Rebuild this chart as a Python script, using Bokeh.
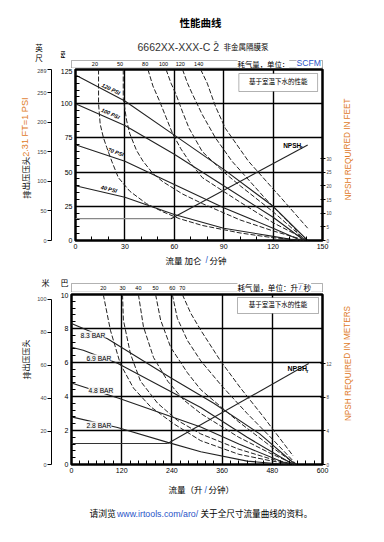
from bokeh.plotting import figure
from bokeh.models import Range1d, LinearAxis, FixedTicker, Label, BoxAnnotation
from bokeh.layouts import column, row
from bokeh.embed import file_html
from bokeh.resources import INLINE
from bokeh.core.properties import value

# ---------------- top chart (US units) ----------------
gpm_ticks = [0, 30, 60, 90, 120, 150]
gpm_minor = [0, 10, 20, 30, 40, 50, 60, 70, 80, 90, 100, 110, 120, 130, 140, 150]
psi_ticks = [0, 25, 50, 75, 100, 125]
psi_minor = [0, 5, 10, 15, 20, 25, 30, 35, 40, 45, 50, 55, 60, 65, 70, 75, 80, 85, 90, 95, 100, 105, 110, 115, 120, 125]
feet_ticks = [0, 50, 100, 150, 200, 250, 289]
npsh_ft_ticks = [0, 5, 10, 15, 20, 25, 30]

psi120_gpm = [0, 30, 60, 90, 120, 141]
psi120_val = [121, 102, 77, 52, 25, 0]
psi100_gpm = [0, 30, 60, 90, 120, 139]
psi100_val = [100, 84, 63, 40, 17, 0]
psi70_gpm = [0, 30, 60, 90, 120, 137]
psi70_val = [70, 58, 41, 24, 9, 0]
psi40_gpm = [0, 30, 60, 90, 120, 135]
psi40_val = [40, 31.6, 19, 9, 3, 0]
psi_names = ["120 PSI", "100 PSI", "70 PSI", "40 PSI"]

scfm20_gpm = [14, 14, 15, 17, 19, 22, 26, 33, 43, 53, 63, 77, 100, 120, 140]
scfm20_psi = [125, 100, 85, 75, 68, 58, 46, 36, 27, 21, 16, 11, 5.5, 2, 0]
scfm50_gpm = [29, 29, 31, 33, 37, 41, 47, 53, 65, 77, 100, 120, 140]
scfm50_psi = [125, 104, 88, 78, 66, 58, 49, 43, 34, 27, 15, 7, 0]
scfm80_gpm = [44, 47, 51, 55, 59, 64, 69, 77, 100, 120, 141]
scfm80_psi = [125, 113, 102, 90, 78, 67, 58, 46, 28, 13, 0]
scfm100_gpm = [55, 58, 61, 65, 69, 77, 90, 100, 120, 140]
scfm100_psi = [125, 115, 107, 94, 82, 65, 50, 40, 21, 0]
scfm120_gpm = [65, 68, 71, 77, 85, 95, 115, 133, 138]
scfm120_psi = [125, 115, 107, 92, 75, 58, 31, 9, 0]
scfm140_gpm = [76, 80, 85, 91, 105, 125, 141]
scfm140_psi = [125, 115, 98, 82, 58, 31, 9]
scfm_names = ["20", "50", "80", "100", "120", "140"]

npsh_flat_gpm = [0, 58]
npsh_flat_ft = [8, 8]
npsh_rise_gpm = [58, 141]
npsh_rise_ft = [8, 35]

# ---------------- bottom chart (metric) ----------------
lpm_ticks = [0, 120, 240, 360, 480, 600]
lpm_minor = [0, 20, 40, 60, 80, 100, 120, 140, 160, 180, 200, 220, 240, 260, 280, 300, 320, 340, 360,
             380, 400, 420, 440, 460, 480, 500, 520, 540, 560, 580, 600]
bar_ticks = [0, 2, 4, 6, 8, 10]
bar_minor = [0, 0.4, 0.8, 1.2, 1.6, 2, 2.4, 2.8, 3.2, 3.6, 4, 4.4, 4.8, 5.2, 5.6, 6, 6.4, 6.8, 7.2, 7.6, 8,
             8.4, 8.8, 9.2, 9.6, 10]
meter_ticks = [0, 20, 40, 60, 80, 100]
npsh_m_ticks = [0, 4, 8, 12]

bar83_lpm = [0, 86, 237, 340, 450, 535]
bar83_val = [8.3, 7.4, 5.1, 3.6, 1.8, 0]
bar69_lpm = [0, 28, 110, 309, 420, 530]
bar69_val = [6.9, 6.72, 5.95, 3.35, 1.6, 0]
bar48_lpm = [0, 113, 309, 400, 520]
bar48_val = [4.8, 3.9, 2.2, 1.2, 0]
bar28_lpm = [0, 110, 230, 309, 420, 515]
bar28_val = [2.8, 2.18, 1.3, 0.75, 0.2, 0]
bar_names = ["8.3 BAR", "6.9 BAR", "4.8 BAR", "2.8 BAR"]

ls20_lpm = [76, 93, 117, 148, 189, 244, 309, 400, 480, 530]
ls20_bar = [10, 7.9, 5.9, 4.5, 3.4, 2.4, 1.4, 0.6, 0.2, 0]
ls30_lpm = [122, 124, 141, 165, 206, 253, 309, 400, 480, 535]
ls30_bar = [10, 8.5, 6.5, 4.9, 3.6, 2.6, 1.8, 0.9, 0.3, 0]
ls40_lpm = [160, 172, 196, 230, 268, 309, 400, 480, 535]
ls40_bar = [10, 8.1, 6.3, 4.9, 3.8, 3.0, 1.6, 0.6, 0]
ls50_lpm = [201, 213, 237, 277, 309, 400, 480, 537]
ls50_bar = [10, 8.5, 6.9, 5.4, 4.4, 2.5, 1.0, 0]
ls60_lpm = [241, 253, 277, 309, 360, 420, 480, 538]
ls60_bar = [10, 8.6, 7.3, 6.1, 4.6, 3.0, 1.5, 0]
ls70_lpm = [265, 285, 309, 356, 404, 459, 530]
ls70_bar = [10, 8.9, 7.9, 6.1, 4.5, 2.8, 0.5]
ls_names = ["20", "30", "40", "50", "60", "70"]

npshm_flat_lpm = [0, 230]
npshm_flat_m = [2.5, 2.5]
npshm_rise_lpm = [230, 567]
npshm_rise_m = [2.5, 12]

# ---------------- styling / geometry (page pixels) ----------------
LAT = "Liberation Sans"
CJK = "Noto Sans CJK SC"
BLUE = "#2a55c8"
ORANGE = "#e07b28"
W = 376
STRIP = 34
RSTRIP = 38

# (frame left, right, top, bottom in page px, x0, x1, y_bottom, y_top)
TOP_G = (71, 322, 69, 240, 0, 150, 0, 125)
BOT_G = (71, 322, 294, 464, 0, 600, 0, 10)
HEAD_G = (0, W, 0, 68, -71 * 150 / 251, (W - 71) * 150 / 251, 68, 0)
MID_G = (0, W, 252, 292, -71 * 600 / 251, (W - 71) * 600 / 251, 292, 252)
FOOT_G = (0, W, 478, 534, 0, W, 534, 478)
LEFT1_G = (0, STRIP, 68, 252, 0, STRIP, 252, 68)
LEFT2_G = (0, STRIP, 292, 478, 0, STRIP, 478, 292)
RIGHT1_G = (W - RSTRIP, W, 68, 252, W - RSTRIP, W, 252, 68)
RIGHT2_G = (W - RSTRIP, W, 292, 478, W - RSTRIP, W, 478, 292)


def at(g, px, py):
    L, R, T, B, x0, x1, y0, y1 = g
    return x0 + (px - L) / (R - L) * (x1 - x0), y0 + (B - py) / (B - T) * (y1 - y0)


def txt(p, g, s, px, py, size, color="black", font=LAT, style="normal", align="left",
        baseline="middle", angle=0.0, bg=None):
    x, y = at(g, px, py)
    lab = Label(x=x, y=y, text=s, text_font=font, text_font_size=f"{size}px", text_color=color,
                text_font_style=style, text_align=align, text_baseline=baseline, angle=angle)
    if bg is not None:
        lab.background_fill_color = bg
        lab.background_fill_alpha = 1.0
    p.add_layout(lab)


def text_fig(g):
    L, R, T, B, x0, x1, y0, y1 = g
    f = figure(width=int(round(R - L)), height=int(round(B - T)), x_range=Range1d(x0, x1),
               y_range=Range1d(y0, y1), output_backend="svg", toolbar_location=None,
               x_axis_location=None, y_axis_location=None, min_border=0)
    f.outline_line_color = None
    f.grid.visible = False
    f.background_fill_color = "white"
    f.border_fill_color = "white"
    return f


def base_fig(height, top, bottom, xr, yr, xt, xmin, yt, ymin):
    p = figure(width=W - STRIP - RSTRIP, height=height, x_range=Range1d(*xr), y_range=Range1d(*yr),
               output_backend="svg", toolbar_location=None,
               min_border_left=71 - STRIP, min_border_right=W - RSTRIP - 322,
               min_border_top=top, min_border_bottom=bottom)
    p.outline_line_color = "black"
    p.outline_line_width = 2.5
    p.border_fill_color = "white"
    p.background_fill_color = "white"
    p.xaxis.ticker = FixedTicker(ticks=xt, minor_ticks=xmin)
    p.yaxis.ticker = FixedTicker(ticks=yt, minor_ticks=ymin)
    p.xgrid.ticker = FixedTicker(ticks=xt)
    p.ygrid.ticker = FixedTicker(ticks=yt)
    for gr in (p.xgrid, p.ygrid):
        gr.grid_line_color = "black"
        gr.grid_line_width = 1.4
    for ax in (p.xaxis, p.yaxis):
        ax.axis_line_color = None
        ax.major_tick_in = 0
        ax.major_tick_out = 0
        ax.minor_tick_in = 4
        ax.minor_tick_out = 0
        ax.minor_tick_line_color = "black"
        ax.major_label_text_font = LAT
        ax.major_label_text_font_size = "7px"
        ax.major_label_text_color = "black"
        ax.major_label_standoff = 3
    p.yaxis.axis_label = " "
    p.yaxis.axis_label_text_font_size = "1px"
    p.yaxis.axis_label_standoff = 2
    return p


def side_axis(p, rng, ticks, bounds, where, size):
    ax = LinearAxis(y_range_name=rng, ticker=FixedTicker(ticks=ticks), bounds=bounds)
    ax.axis_line_width = 1
    ax.major_tick_out = 4 if where == "left" else 3
    ax.major_tick_in = 0 if where == "left" else 2
    ax.minor_tick_out = 0
    ax.minor_tick_in = 0
    ax.major_label_text_font = LAT
    ax.major_label_text_font_size = f"{size}px"
    ax.major_label_standoff = 1
    p.add_layout(ax, where)
    return ax


def band(f, xs_list, names, right, top, bottom, ymid):
    f.add_layout(BoxAnnotation(left=0, right=right, top=top, bottom=bottom, fill_alpha=0,
                               line_color="black", line_width=1))
    f.text(x=[xs[0] for xs in xs_list], y=ymid, text=names, text_font=value(LAT),
           text_font_size="5.5px", text_align="center", text_baseline="middle", text_color="black")


# ================= HEADER =================
head = text_fig(HEAD_G)
scfm_x = [scfm20_gpm, scfm50_gpm, scfm80_gpm, scfm100_gpm, scfm120_gpm, scfm140_gpm]
scfm_y = [scfm20_psi, scfm50_psi, scfm80_psi, scfm100_psi, scfm120_psi, scfm140_psi]
band(head, scfm_x, scfm_names, 150, 60, 67.5, 63.8)
txt(head, HEAD_G, "性能曲线", 200, 22, 10.5, font=CJK, style="bold", align="center")
txt(head, HEAD_G, "6662XX-XXX-C 2", 137, 46, 10.5, color="#333333")
txt(head, HEAD_G, "\"", 214, 43, 6.5, color="#333333")
txt(head, HEAD_G, "非金属隔膜泵", 223, 45.5, 7.5, font=CJK)
txt(head, HEAD_G, "英", 38.5, 46.5, 7.5, font=CJK, align="center")
txt(head, HEAD_G, "尺", 38.5, 56.5, 7.5, font=CJK, align="center")
txt(head, HEAD_G, "PSI", 63, 54, 4.5, style="bold", align="center", angle=1.5708)
txt(head, HEAD_G, "耗气量，单位：", 237, 62.5, 7.4, font=CJK, bg="white")
txt(head, HEAD_G, "SCFM", 296, 62.8, 8.6, color=BLUE, bg="white")

# ================= TOP CHART =================
p1 = base_fig(184, 1, 12, (0, 150), (0, 125), gpm_ticks, gpm_minor, psi_ticks, psi_minor)
p1.extra_y_ranges = {"ft": Range1d(0, 289), "npsh": Range1d(0, 62.6)}
side_axis(p1, "ft", feet_ticks, (0, 289), "left", 5.5)
side_axis(p1, "npsh", npsh_ft_ticks, (0, 30), "right", 4.5)

for xs, ys in zip(scfm_x, scfm_y):
    p1.line(xs, ys, line_color="#222222", line_width=1, line_dash="5 2")
for xs, ys in zip([psi120_gpm, psi100_gpm, psi70_gpm, psi40_gpm], [psi120_val, psi100_val, psi70_val, psi40_val]):
    p1.line(xs, ys, line_color="#222222", line_width=1.1)
p1.line(npsh_flat_gpm, npsh_flat_ft, y_range_name="npsh", line_color="#888888", line_width=1.1)
p1.line(npsh_rise_gpm, npsh_rise_ft, y_range_name="npsh", line_color="#222222", line_width=1.1)

for name, (px, py, ang) in zip(psi_names, [(107, 88.5, -0.45), (106.5, 113, -0.41), (112, 151.5, -0.33), (105, 188.5, -0.25)]):
    txt(p1, TOP_G, name, px, py, 5.5, style="bold italic", align="center", angle=ang)

x0, y0 = at(TOP_G, 237, 73)
x1, y1 = at(TOP_G, 317, 91)
p1.add_layout(BoxAnnotation(left=x0, right=x1, top=y0, bottom=y1, fill_color="white", fill_alpha=1,
                            line_color="black", line_width=1))
txt(p1, TOP_G, "基于室温下水的性能", 277, 80.5, 6.5, font=CJK, align="center")
txt(p1, TOP_G, "NPSH", 282, 144.5, 6.5, style="bold")
txt(p1, TOP_G, "r", 300, 147, 4.5, style="bold")

left1 = text_fig(LEFT1_G)
txt(left1, LEFT1_G, "排出压压头", 25, 207, 8.4, font=CJK, angle=1.5708)
txt(left1, LEFT1_G, "2.31 FT=1 PSI", 25, 162, 9.2, color=ORANGE, angle=1.5708)
right1 = text_fig(RIGHT1_G)
txt(right1, RIGHT1_G, "NPSH REQUIRED IN FEET", 347.5, 154, 8.2, color=ORANGE, align="center", angle=1.5708)

# ================= MIDDLE =================
mid = text_fig(MID_G)
ls_x = [ls20_lpm, ls30_lpm, ls40_lpm, ls50_lpm, ls60_lpm, ls70_lpm]
ls_y = [ls20_bar, ls30_bar, ls40_bar, ls50_bar, ls60_bar, ls70_bar]
band(mid, ls_x, ls_names, 600, 283, 291.6, 287)
txt(mid, MID_G, "流量 加仑", 165, 259, 8.5, font=CJK)
txt(mid, MID_G, "/", 205, 259, 8.5, color=BLUE)
txt(mid, MID_G, "分钟", 209, 259, 8.5, font=CJK)
txt(mid, MID_G, "米", 45, 282, 8, font=CJK, align="center")
txt(mid, MID_G, "巴", 64, 282, 8, font=CJK, align="center")
txt(mid, MID_G, "耗气量，单位：", 237, 286.5, 7.6, font=CJK, bg="white")
txt(mid, MID_G, "升", 290, 286.5, 7.6, font=CJK, bg="white")
txt(mid, MID_G, "/", 298.5, 287, 8, color=BLUE)
txt(mid, MID_G, "秒", 303, 286.5, 7.6, font=CJK, bg="white")

# ================= BOTTOM CHART =================
p2 = base_fig(186, 2, 14, (0, 600), (0, 10), lpm_ticks, lpm_minor, bar_ticks, bar_minor)
p2.extra_y_ranges = {"m": Range1d(0, 103), "npsh": Range1d(0, 20.2)}
side_axis(p2, "m", meter_ticks, (0, 100), "left", 5.5)
side_axis(p2, "npsh", npsh_m_ticks, (0, 12), "right", 4.5)

for xs, ys in zip(ls_x, ls_y):
    p2.line(xs, ys, line_color="#222222", line_width=1, line_dash="5 2")
for xs, ys in zip([bar83_lpm, bar69_lpm, bar48_lpm, bar28_lpm], [bar83_val, bar69_val, bar48_val, bar28_val]):
    p2.line(xs, ys, line_color="#222222", line_width=1.1)
p2.line(npshm_flat_lpm, npshm_flat_m, y_range_name="npsh", line_color="#333333", line_width=1.1)
p2.line(npshm_rise_lpm, npshm_rise_m, y_range_name="npsh", line_color="#222222", line_width=1.1)

for name, (px, py) in zip(bar_names, [(80, 334.5), (86, 357.5), (88, 390), (86, 424.5)]):
    txt(p2, BOT_G, name, px, py, 6.7, bg="#f3f3f3")

x0, y0 = at(BOT_G, 237, 297)
x1, y1 = at(BOT_G, 318, 313)
p2.add_layout(BoxAnnotation(left=x0, right=x1, top=y0, bottom=y1, fill_color="white", fill_alpha=1,
                            line_color="black", line_width=1))
txt(p2, BOT_G, "基于室温下水的性能", 277.5, 303.5, 6.5, font=CJK, align="center")
txt(p2, BOT_G, "NPSH", 287, 367.5, 7, style="bold")
txt(p2, BOT_G, "r", 306, 371, 4.8, style="bold")

left2 = text_fig(LEFT2_G)
txt(left2, LEFT2_G, "排出压压头", 25.5, 385, 8, font=CJK, angle=1.5708)
right2 = text_fig(RIGHT2_G)
txt(right2, RIGHT2_G, "NPSH REQUIRED IN METERS", 347.5, 367.5, 8.2, color=ORANGE, align="center", angle=1.5708)

# ================= FOOTER =================
foot = text_fig(FOOT_G)
txt(foot, FOOT_G, "流量（升", 168, 488.5, 8.5, font=CJK)
txt(foot, FOOT_G, "/", 204, 489, 8.5, color=BLUE)
txt(foot, FOOT_G, "分钟）", 208, 488.5, 8.5, font=CJK)
txt(foot, FOOT_G, "请浏览", 89, 512.5, 8.8, font=CJK)
txt(foot, FOOT_G, "www.irtools.com/aro/", 116.5, 513, 8.8, color=BLUE)
txt(foot, FOOT_G, "关于全尺寸流量曲线的资料。", 200, 512.5, 8.6, font=CJK)

layout = column(head, row(left1, p1, right1), mid, row(left2, p2, right2), foot)
open("out.html", "w").write(file_html(layout, INLINE))
